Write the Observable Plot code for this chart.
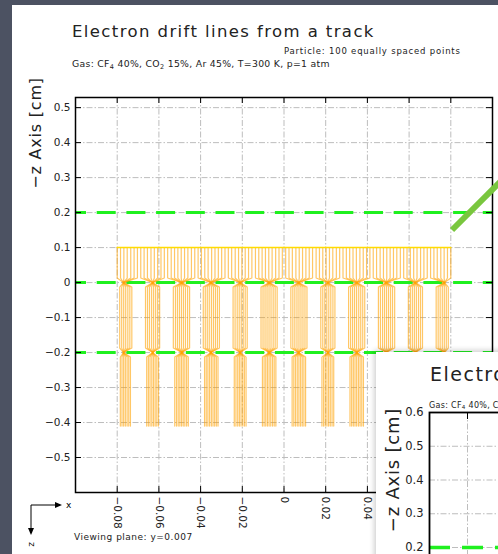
<!DOCTYPE html>
<html>
<head>
<meta charset="utf-8">
<script src="https://cdn.jsdelivr.net/npm/d3@7"></script>
<script src="https://cdn.jsdelivr.net/npm/@observablehq/plot@0.6"></script>
<style>
  html, body { margin: 0; padding: 0; background: #4c5262; }
  #page { position: relative; width: 498px; height: 554px; overflow: hidden; background: #4c5262; font-family: "DejaVu Sans", sans-serif; color: #222; }
  .abs { position: absolute; white-space: nowrap; line-height: 1; }
  sub { font-size: 0.7em; vertical-align: -0.25em; line-height: 0; }
  svg { max-width: none !important; }
</style>
</head>
<body>
<div id="page">
  <div class="abs" style="left:12px;top:5px;width:500px;height:560px;background:#fff;"></div>
  <div class="abs" style="left:72px;top:24px;font-size:16.5px;letter-spacing:1.4px;">Electron drift lines from a track</div>
  <div class="abs" style="left:284px;top:47px;font-size:8.5px;letter-spacing:0.8px;">Particle: 100 equally spaced points</div>
  <div class="abs" style="left:72px;top:59px;font-size:9.3px;letter-spacing:0.3px;">Gas: CF<sub>4</sub> 40%, CO<sub>2</sub> 15%, Ar 45%, T=300 K, p=1 atm</div>
  <div class="abs" style="left:36px;top:133px;font-size:16px;letter-spacing:0.8px;transform:translate(-50%,-50%) rotate(-90deg);">−z Axis [cm]</div>
  <div id="main" class="abs" style="left:0;top:80px;"></div>
  <svg class="abs" style="left:0;top:495px;" width="80" height="59">
    <g stroke="#000" stroke-width="1" fill="none">
      <line x1="31" y1="10" x2="60" y2="10"/>
      <line x1="31" y1="10" x2="31" y2="38"/>
    </g>
    <path d="M62,10 L55,7 L55,13 Z" fill="#000"/>
    <path d="M31,40 L28,33 L34,33 Z" fill="#000"/>
    <text x="66" y="13" font-size="9" font-family="DejaVu Sans">x</text>
    <text x="0" y="0" font-size="9" font-family="DejaVu Sans" transform="translate(29,47) rotate(90)">z</text>
  </svg>
  <div class="abs" style="left:74px;top:533px;font-size:9px;letter-spacing:0.5px;">Viewing plane: y=0.007</div>
  <div class="abs" style="left:452px;top:227px;width:80px;height:6px;background:#79c63e;transform-origin:0 50%;transform:rotate(-45deg);"></div>
  <div id="overlay" class="abs" style="left:376px;top:352px;width:130px;height:210px;background:#fff;overflow:hidden;box-shadow:-2px -2px 5px rgba(0,0,0,0.18);">
    <div class="abs" style="left:54px;top:13px;font-size:19px;letter-spacing:1.5px;">Electron drift lines from a track</div>
    <div class="abs" style="left:53px;top:50px;font-size:8px;letter-spacing:0.3px;">Gas: CF<sub>4</sub> 40%, CO<sub>2</sub> 15%, Ar 45%, T=300 K, p=1 atm</div>
    <div class="abs" style="left:17px;top:118px;font-size:18px;letter-spacing:0.8px;transform:translate(-50%,-50%) rotate(-90deg);">−z Axis [cm]</div>
    <div id="ov" class="abs" style="left:0;top:0;"></div>
  </div>
</div>
<script>
// ---- data ----
const trackX = [
  -0.0800, -0.0784, -0.0768, -0.0752, -0.0735, -0.0719, -0.0703, -0.0687, -0.0671, -0.0655,
  -0.0638, -0.0622, -0.0606, -0.0590, -0.0574, -0.0558, -0.0541, -0.0525, -0.0509, -0.0493,
  -0.0477, -0.0461, -0.0444, -0.0428, -0.0412, -0.0396, -0.0380, -0.0364, -0.0347, -0.0331,
  -0.0315, -0.0299, -0.0283, -0.0267, -0.0251, -0.0234, -0.0218, -0.0202, -0.0186, -0.0170,
  -0.0154, -0.0137, -0.0121, -0.0105, -0.0089, -0.0073, -0.0057, -0.0040, -0.0024, -0.0008,
   0.0008,  0.0024,  0.0040,  0.0057,  0.0073,  0.0089,  0.0105,  0.0121,  0.0137,  0.0154,
   0.0170,  0.0186,  0.0202,  0.0218,  0.0234,  0.0251,  0.0267,  0.0283,  0.0299,  0.0315,
   0.0331,  0.0347,  0.0364,  0.0380,  0.0396,  0.0412,  0.0428,  0.0444,  0.0461,  0.0477,
   0.0493,  0.0509,  0.0525,  0.0541,  0.0558,  0.0574,  0.0590,  0.0606,  0.0622,  0.0638,
   0.0655,  0.0671,  0.0687,  0.0703,  0.0719,  0.0735,  0.0752,  0.0768,  0.0784,  0.0800
];
const trackY = 0.1;
const holeX = [-0.077, -0.063, -0.049, -0.035, -0.021, -0.007, 0.007, 0.021, 0.035, 0.049, 0.063, 0.077];
const gemY = [0, -0.2];
const readoutY = -0.41;
const electrodeY = [0.2, 0, -0.2];

const xTicks = [-0.08, -0.06, -0.04, -0.02, 0, 0.02, 0.04, 0.06, 0.08];
const xTickLabels = ["−0.08", "−0.06", "−0.04", "−0.02", "0", "0.02", "0.04", "0.06", "0.08"];
const yTicks = [0.5, 0.4, 0.3, 0.2, 0.1, 0, -0.1, -0.2, -0.3, -0.4, -0.5];
const yTickLabels = ["0.5", "0.4", "0.3", "0.2", "0.1", "0", "−0.1", "−0.2", "−0.3", "−0.4", "−0.5"];
const xDomain = [-0.1, 0.1];
const yDomain = [-0.6, 0.529];

// second (overlapping) window
const ovYTicks = [0.6, 0.5, 0.4, 0.3, 0.2];
const ovYTickLabels = ["0.6", "0.5", "0.4", "0.3", "0.2"];
const ovXTicks = [-0.08];
const ovElectrodeY = [0.2];
const ovXDomain = [-0.1, 0.0247];
const ovYDomain = [0.0667, 0.6];

// ---- drift line paths ----
const pinch = 0.013, spread1 = 0.6, spread2 = 0.5;
const drift = [];
trackX.forEach((x0, id) => {
  const h = holeX.reduce((a, b) => Math.abs(b - x0) < Math.abs(a - x0) ? b : a);
  const d = x0 - h;
  const pts = [
    [x0, trackY], [x0, gemY[0] + pinch], [h, gemY[0]],
    [h + d * spread1, gemY[0] - pinch], [h + d * spread1, gemY[1] + pinch], [h, gemY[1]],
    [h + d * spread2, gemY[1] - pinch], [h + d * spread2, readoutY]
  ];
  pts.forEach(([x, y]) => drift.push({id, x, y}));
});

const grid = {stroke: "#bdbdbd", strokeWidth: 1, strokeDasharray: "6,2,1.5,2"};
const green = {stroke: "#1ff01f", strokeWidth: 3, strokeDasharray: "19,10.7", strokeDashoffset: 8};
const fmtX = d => xTickLabels[xTicks.indexOf(d)];
const fmtY = d => yTickLabels[yTicks.indexOf(d)];

const main = Plot.plot({
  width: 498, height: 474,
  marginLeft: 75, marginRight: 6, marginTop: 17, marginBottom: 62,
  style: {background: "transparent", fontFamily: "DejaVu Sans", fontSize: "10.5px", color: "#222", maxWidth: "none"},
  x: {domain: xDomain, label: null},
  y: {domain: yDomain, label: null},
  marks: [
    Plot.ruleX(xTicks, {x: d => d, ...grid}),
    Plot.ruleY(yTicks, {y: d => d, ...grid}),
    Plot.ruleY(electrodeY, {y: d => d, ...green}),
    Plot.line(drift, {x: "x", y: "y", z: "id", stroke: "#ffa200", strokeOpacity: 0.6, strokeWidth: 1.2}),
    Plot.line(trackX, {x: d => d, y: () => trackY, stroke: "#ffdc00", strokeWidth: 1.5}),
    Plot.ruleX(xTicks, {x: d => d, y1: () => yDomain[1], y2: () => yDomain[1], insetBottom: -6, stroke: "#000"}),
    Plot.ruleX(xTicks, {x: d => d, y1: () => yDomain[0], y2: () => yDomain[0], insetTop: -6, stroke: "#000"}),
    Plot.ruleY(yTicks, {y: d => d, x1: () => xDomain[0], x2: () => xDomain[0], insetRight: -6, stroke: "#000"}),
    Plot.ruleY(yTicks, {y: d => d, x1: () => xDomain[1], x2: () => xDomain[1], insetLeft: -6, stroke: "#000"}),
    Plot.frame({stroke: "#000", strokeWidth: 1.5}),
    Plot.axisY(yTicks, {tickSize: 0, tickPadding: 5, tickFormat: fmtY, fontSize: 10.5, label: null}),
    Plot.axisX(xTicks, {tickSize: 0, tickPadding: 4, tickRotate: 90, tickFormat: fmtX, fontSize: 10.5, label: null})
  ]
});
document.getElementById("main").appendChild(main);

const ov = Plot.plot({
  width: 300, height: 260,
  marginLeft: 53, marginRight: 10, marginTop: 60, marginBottom: 20,
  style: {background: "transparent", fontFamily: "DejaVu Sans", fontSize: "11.5px", color: "#222", maxWidth: "none"},
  x: {domain: ovXDomain, axis: null},
  y: {domain: ovYDomain, label: null},
  marks: [
    Plot.ruleX(ovXTicks, {x: d => d, ...grid}),
    Plot.ruleY(ovYTicks, {y: d => d, ...grid}),
    Plot.ruleY(ovElectrodeY, {y: d => d, stroke: "#1ff01f", strokeWidth: 3.5, strokeDasharray: "21,12"}),
    Plot.ruleX(ovXTicks, {x: d => d, y1: () => ovYDomain[1], y2: () => ovYDomain[1], insetBottom: -7, stroke: "#000"}),
    Plot.frame({stroke: "#000", strokeWidth: 1.8}),
    Plot.axisY(ovYTicks, {tickSize: 0, tickPadding: 6, tickFormat: d => ovYTickLabels[ovYTicks.indexOf(d)], fontSize: 11.5, label: null})
  ]
});
document.getElementById("ov").appendChild(ov);
</script>
</body>
</html>
